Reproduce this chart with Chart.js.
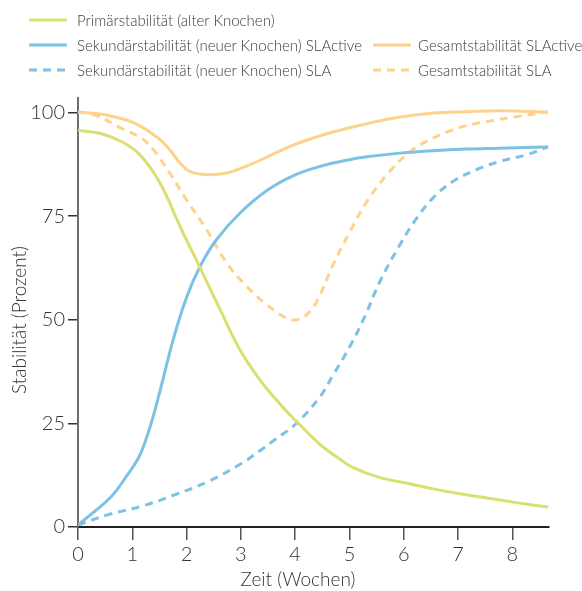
<!DOCTYPE html>
<html>
<head>
<meta charset="utf-8">
<script src="https://cdn.jsdelivr.net/npm/chart.js@4/dist/chart.umd.min.js"></script>
<style>
html,body{margin:0;padding:0;background:#fff;}
#wrap{position:relative;width:582px;height:591px;}
#legend{position:absolute;left:0;top:0;width:582px;height:90px;font-family:Lato,"Open Sans",sans-serif;font-weight:300;font-size:15px;color:#3a3a3a;}
.item{position:absolute;display:flex;align-items:center;white-space:nowrap;height:20px;}
.item svg{display:block;}
</style>
</head>
<body>
<div id="wrap"><canvas id="c" width="582" height="591"></canvas><div id="legend"></div></div>
<script>
// ---- data ----
const xTitle = "Zeit (Wochen)";
const yTitle = "Stabilität (Prozent)";
const xTickValues = [0, 1, 2, 3, 4, 5, 6, 7, 8];
const yTickValues = [0, 25, 50, 75, 100];

const seriesLabels = [
  "Primärstabilität (alter Knochen)",
  "Sekundärstabilität (neuer Knochen) SLActive",
  "Sekundärstabilität (neuer Knochen) SLA",
  "Gesamtstabilität SLActive",
  "Gesamtstabilität SLA"
];

const primX = [0,0.4,0.8,1.14,1.51,1.88,2.25,2.62,2.98,3.35,3.72,4.09,4.46,4.80,5.07,5.56,6.05,6.54,7.04,7.53,8.02,8.66];
const primY = [95.7,95.0,93.0,89.8,83.0,72.5,62.5,52.4,42.8,35.5,29.7,24.6,19.9,16.6,14.3,11.9,10.6,9.2,8.0,7.0,6.0,4.8];

const sekActiveX = [0,0.31,0.62,0.87,1.11,1.23,1.37,1.51,1.76,2.00,2.25,2.55,2.98,3.48,3.97,4.46,4.95,5.32,5.93,6.54,7.16,7.77,8.66];
const sekActiveY = [0.5,3.8,7.4,11.8,16.6,20.3,26.0,32.8,45.5,55.4,62.9,69.3,75.7,81.2,84.8,87.0,88.5,89.3,90.2,90.8,91.2,91.4,91.7];

const sekSlaX = [0,0.56,1.17,1.79,2.40,3.02,3.35,3.63,4.03,4.46,4.70,5.01,5.29,5.56,5.93,6.24,6.54,6.91,7.34,7.77,8.26,8.66];
const sekSlaY = [0.5,3.0,5.0,7.8,11.0,15.4,18.4,21.1,25.1,31.5,36.7,43.6,51.0,59.2,68.1,74.5,79.4,83.4,86.2,88.2,89.8,91.7];

const gesActiveX = [0,0.56,1.05,1.48,1.69,1.88,2.06,2.37,2.74,3.17,3.60,3.94,4.37,4.70,5.32,5.93,6.54,7.16,7.77,8.66];
const gesActiveY = [100.1,99.3,97.4,93.8,91.0,87.8,85.8,85.0,85.4,87.4,90.0,92.0,94.0,95.3,97.3,98.9,99.9,100.2,100.4,100.1];

const gesSlaX = [0,0.31,0.80,1.17,1.39,1.69,2.00,2.37,2.74,3.11,3.48,3.84,4.03,4.22,4.40,4.70,5.01,5.32,5.69,6.12,6.54,7.04,7.53,8.08,8.66];
const gesSlaY = [100.1,99.4,96.2,93.8,91.0,85.4,78.9,71.7,63.7,58.0,53.6,50.4,50.0,51.3,54.5,63.3,71.3,78.5,85.0,90.6,93.8,96.4,97.8,99.0,100.1];

// ---- styling ----
const GREEN = "#d9df70";
const BLUE = "#7cc2e4";
const ORANGE = "#fed28b";
const DASH = [8, 6];
const FONT = "Lato, 'Open Sans', sans-serif";

function pts(xs, ys) { return xs.map((x, i) => ({ x: x, y: ys[i] })); }

const datasets = [
  { label: seriesLabels[0], data: pts(primX, primY), borderColor: GREEN, borderDash: [] },
  { label: seriesLabels[1], data: pts(sekActiveX, sekActiveY), borderColor: BLUE, borderDash: [] },
  { label: seriesLabels[2], data: pts(sekSlaX, sekSlaY), borderColor: BLUE, borderDash: DASH },
  { label: seriesLabels[3], data: pts(gesActiveX, gesActiveY), borderColor: ORANGE, borderDash: [] },
  { label: seriesLabels[4], data: pts(gesSlaX, gesSlaY), borderColor: ORANGE, borderDash: DASH }
].map(d => Object.assign(d, {
  borderWidth: 3, pointRadius: 0, pointHoverRadius: 0, fill: false,
  tension: 0.4, borderCapStyle: "butt"
}));

// legend layout: [column, row]
const legendSlots = [[0,0],[0,1],[0,2],[1,1],[1,2]];
const legendColX = [29, 373];
const legendGap = [10, 7];
const legendRowY = [20, 45, 70];
const legendEl = document.getElementById("legend");
datasets.forEach((ds, i) => {
  const [c, r] = legendSlots[i];
  const item = document.createElement("div");
  item.className = "item";
  item.style.left = legendColX[c] + "px";
  item.style.top = (legendRowY[r] - 10) + "px";
  const dash = ds.borderDash.length ? ds.borderDash.join(",") : "none";
  item.innerHTML = '<svg width="38" height="6" style="margin-right:' + legendGap[c] + 'px"><line x1="0" y1="3" x2="38" y2="3" stroke="' + ds.borderColor +
    '" stroke-width="3" stroke-dasharray="' + dash + '"/></svg><span>' + ds.label + '</span>';
  legendEl.appendChild(item);
});

const axisTitles = {
  id: "axisTitles",
  afterDraw(chart) {
    const ctx = chart.ctx;
    ctx.save();
    ctx.fillStyle = "#333";
    ctx.font = "300 19px " + FONT;
    ctx.textAlign = "center";
    ctx.textBaseline = "middle";
    ctx.fillText(xTitle, 298, 580);
    ctx.translate(20, 320);
    ctx.rotate(-Math.PI / 2);
    ctx.fillText(yTitle, 0, 0);
    ctx.restore();
  }
};

new Chart(document.getElementById("c"), {
  type: "line",
  data: { datasets: datasets },
  plugins: [axisTitles],
  options: {
    responsive: false,
    animation: false,
    layout: { padding: { top: 98, right: 33, left: 0, bottom: 0 } },
    plugins: { legend: { display: false }, tooltip: { enabled: false } },
    scales: {
      x: {
        type: "linear", min: 0, max: 8.676,
        afterBuildTicks: s => { s.ticks = xTickValues.map(v => ({ value: v })); },
        afterFit: s => { s.height = 64; },
        border: { display: true, color: "#222", width: 2 },
        grid: { display: true, drawOnChartArea: false, drawTicks: true, tickLength: 13, color: "#555", lineWidth: 1.5 },
        ticks: { color: "#333", font: { family: FONT, size: 20, weight: "300" }, padding: 3, maxRotation: 0, autoSkip: false }
      },
      y: {
        type: "linear", min: 0, max: 103.5,
        afterBuildTicks: s => { s.ticks = yTickValues.map(v => ({ value: v })); },
        afterFit: s => { s.width = 78; },
        border: { display: true, color: "#6e6e6e", width: 2 },
        grid: { display: true, drawOnChartArea: false, drawTicks: true, tickLength: 10, color: "#333", lineWidth: 1.5 },
        ticks: { color: "#333", font: { family: FONT, size: 20, weight: "300" }, padding: 3 }
      }
    }
  }
});
</script>
</body>
</html>
